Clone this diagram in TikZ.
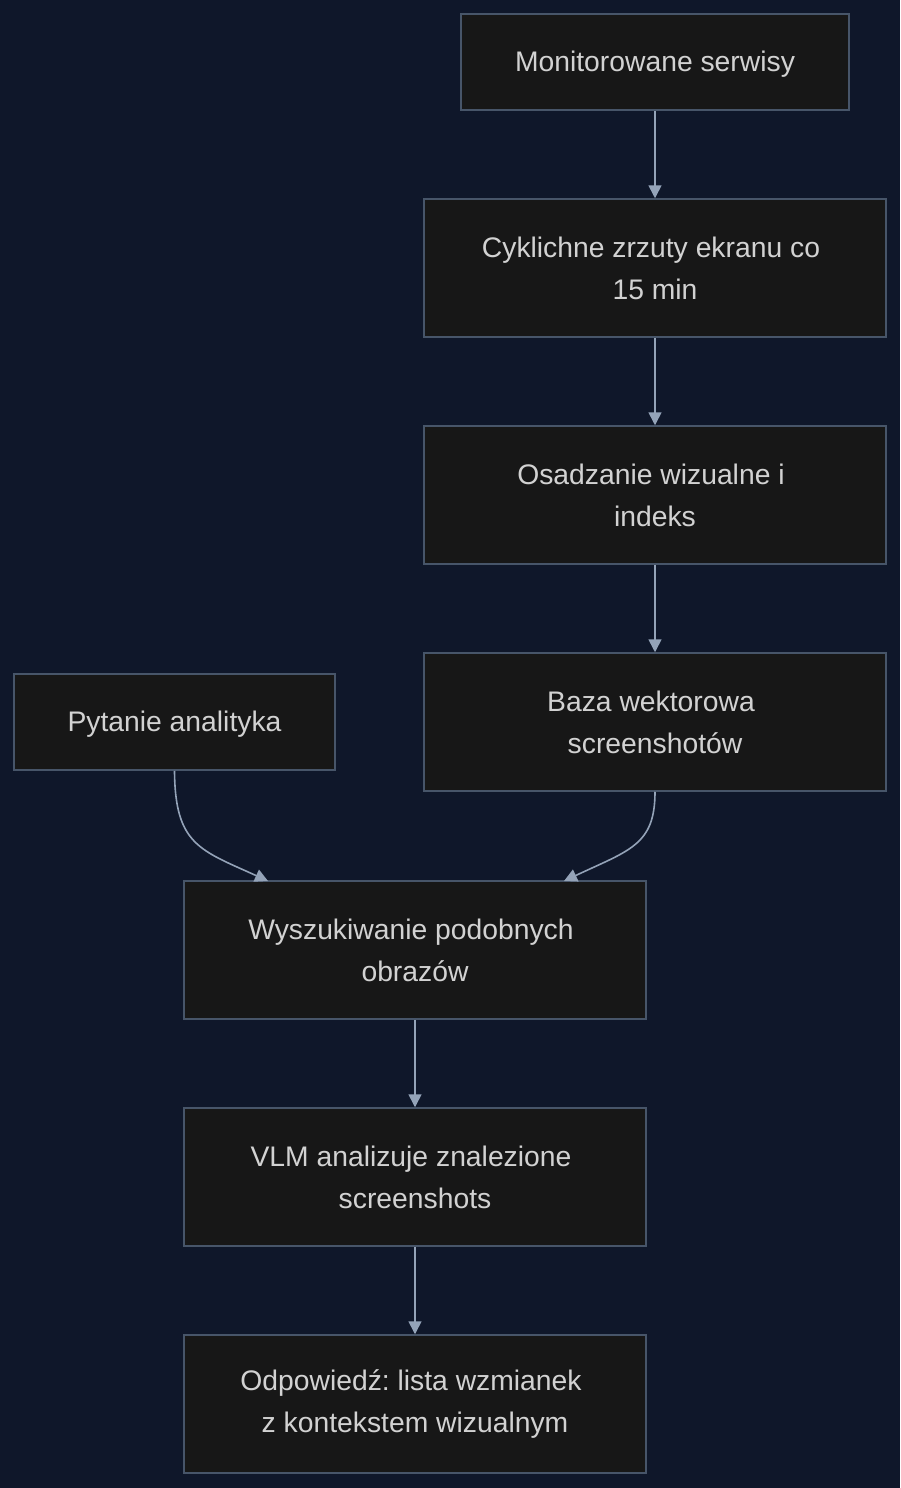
\documentclass[tikz,border=0pt]{standalone}
\usepackage{fontspec}
\setmainfont{Liberation Sans}
\usepackage{xcolor}
\usepackage{tikz}
\usetikzlibrary{arrows.meta}
\frenchspacing

\definecolor{bgnavy}{HTML}{0F172A}
\definecolor{boxfill}{HTML}{171717}
\definecolor{boxline}{HTML}{475569}
\definecolor{arrowgray}{HTML}{94A3B8}
\definecolor{textgray}{HTML}{D2D2D2}

% trailing space kept at the end of a wrapped line
\newcommand{\brk}{\hspace*{8pt}\\}
% single line, set a little lower
\newcommand{\lowtxt}[1]{\raisebox{-2pt}[\height][\depth]{#1}}

\begin{document}
\begin{tikzpicture}[x=1pt, y=-1pt,
    stepbox/.style={draw=boxline, fill=boxfill, line width=1.5pt, inner sep=0pt,
        align=center, text=textgray, font=\fontsize{28.3}{42}\selectfont},
    flow/.style={draw=arrowgray, line width=1.6pt, -{Triangle[length=13pt, width=13pt]}}]
        % Background
        \fill[bgnavy] (0,0) rectangle (900,1488);
        \useasboundingbox (0,0) rectangle (900,1488);

        % Right column: capture pipeline
        \node[stepbox, minimum width=388pt, minimum height=96pt] (serwisy) at (655,62) {\lowtxt{Monitorowane serwisy}};
        \node[stepbox, minimum width=462pt, minimum height=138pt] (zrzuty) at (655,268) {Cyklichne zrzuty ekranu co\brk 15 min};
        \node[stepbox, minimum width=462pt, minimum height=138pt] (osadzanie) at (655,495) {Osadzanie wizualne i\brk indeks};
        \node[stepbox, minimum width=462pt, minimum height=138pt] (baza) at (655,722) {Baza wektorowa\brk screenshotów};

        % Left: question from the analyst
        \node[stepbox, minimum width=321pt, minimum height=96pt] (pytanie) at (174.5,722) {\lowtxt{Pytanie analityka}};

        % Bottom column: search and answer
        \node[stepbox, minimum width=462pt, minimum height=138pt] (wyszukiwanie) at (415,950) {Wyszukiwanie podobnych\brk obrazów};
        \node[stepbox, minimum width=462pt, minimum height=138pt] (vlm) at (415,1177) {VLM analizuje znalezione\brk screenshots};
        \node[stepbox, minimum width=462pt, minimum height=138pt] (odpowiedz) at (415,1404) {Odpowiedź: lista wzmianek\brk z kontekstem wizualnym};

        % Entry points on the search box
        \coordinate (wysLeft) at (268,881);
        \coordinate (wysRight) at (564,881);

        % Connectors
        \draw[flow] (serwisy) -- (zrzuty);
        \draw[flow] (zrzuty) -- (osadzanie);
        \draw[flow] (osadzanie) -- (baza);
        \draw[flow] (pytanie.south) .. controls (175,845) and (200,850) .. (wysLeft);
        \draw[flow] (baza.south) .. controls (655,845) and (630,850) .. (wysRight);
        \draw[flow] (wyszukiwanie) -- (vlm);
        \draw[flow] (vlm) -- (odpowiedz);
    \end{tikzpicture}
\end{document}
